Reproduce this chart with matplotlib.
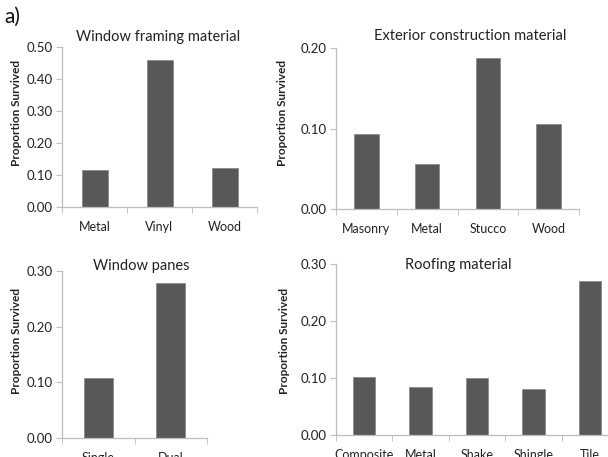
import matplotlib
matplotlib.use("Agg")
import matplotlib.pyplot as plt
from matplotlib.ticker import FixedLocator, FormatStrFormatter

plt.rcParams["font.family"] = ["Lato", "DejaVu Sans"]

# data
frame_cats = ["Metal", "Vinyl", "Wood"]
frame_vals = [0.116, 0.459, 0.121]

exterior_cats = ["Masonry", "Metal", "Stucco", "Wood"]
exterior_vals = [0.093, 0.056, 0.187, 0.106]

pane_cats = ["Single", "Dual"]
pane_vals = [0.108, 0.278]

roof_cats = ["Composite", "Metal", "Shake", "Shingle", "Tile"]
roof_vals = [0.102, 0.084, 0.100, 0.080, 0.271]

W, H = 608, 457
BAR = "#585858"
SPINE = "#bdbdbd"


def px_axes(fig, left, top, right, bottom):
    return fig.add_axes([left / W, 1 - bottom / H, (right - left) / W, (bottom - top) / H])


def panel(ax, cats, vals, ymax, ystep):
    x = list(range(len(cats)))
    ax.bar(x, vals, width=0.4, color=BAR, edgecolor="#7a7a7a", linewidth=0.4)
    ax.set_xlim(-0.5, len(cats) - 0.5)
    ax.set_ylim(0, ymax)
    ax.set_xticks(x)
    ax.set_xticklabels(cats, fontsize=9, color="#222222")
    ax.xaxis.set_minor_locator(FixedLocator([i - 0.5 for i in range(len(cats) + 1)]))
    ax.tick_params(axis="x", which="major", length=0, pad=10)
    ax.tick_params(axis="x", which="minor", length=4, color=SPINE, direction="out")
    ticks = [round(i * ystep, 2) for i in range(int(round(ymax / ystep)) + 1)]
    ax.set_yticks(ticks)
    ax.yaxis.set_major_formatter(FormatStrFormatter("%.2f"))
    ax.tick_params(axis="y", length=4, color=SPINE, labelsize=9.5, labelcolor="#222222", pad=3)
    for s in ["top", "right"]:
        ax.spines[s].set_visible(False)
    for s in ["left", "bottom"]:
        ax.spines[s].set_color(SPINE)
        ax.spines[s].set_linewidth(0.9)


def fig_text(fig, x, y, s, **kw):
    fig.text(x / W, 1 - y / H, s, **kw)


fig = plt.figure(figsize=(W / 100, H / 100), dpi=100)

ax1 = px_axes(fig, 62, 47, 257, 207)
panel(ax1, frame_cats, frame_vals, 0.5, 0.1)

ax2 = px_axes(fig, 336, 48, 579, 209)
panel(ax2, exterior_cats, exterior_vals, 0.2, 0.1)

ax3 = px_axes(fig, 62, 271, 207, 438)
panel(ax3, pane_cats, pane_vals, 0.3, 0.1)

ax4 = px_axes(fig, 336, 264, 618, 435)
panel(ax4, roof_cats, roof_vals, 0.3, 0.1)

tkw = dict(ha="center", va="center", fontsize=10.5, color="#222222")
fig_text(fig, 158, 37, "Window framing material", **tkw)
fig_text(fig, 470, 36, "Exterior construction material", **tkw)
fig_text(fig, 141, 266, "Window panes", **tkw)
fig_text(fig, 458, 265, "Roofing material", **tkw)

ykw = dict(ha="center", va="center", rotation=90, fontsize=8.5, fontweight="bold", color="#222222")
fig_text(fig, 17, 113, "Proportion Survived", **ykw)
fig_text(fig, 283, 113, "Proportion Survived", **ykw)
fig_text(fig, 17, 341, "Proportion Survived", **ykw)
fig_text(fig, 285, 341, "Proportion Survived", **ykw)

fig_text(fig, 4, 17, "a)", ha="left", va="center", fontsize=15, color="#111111")

fig.savefig("out.png", dpi=100)
